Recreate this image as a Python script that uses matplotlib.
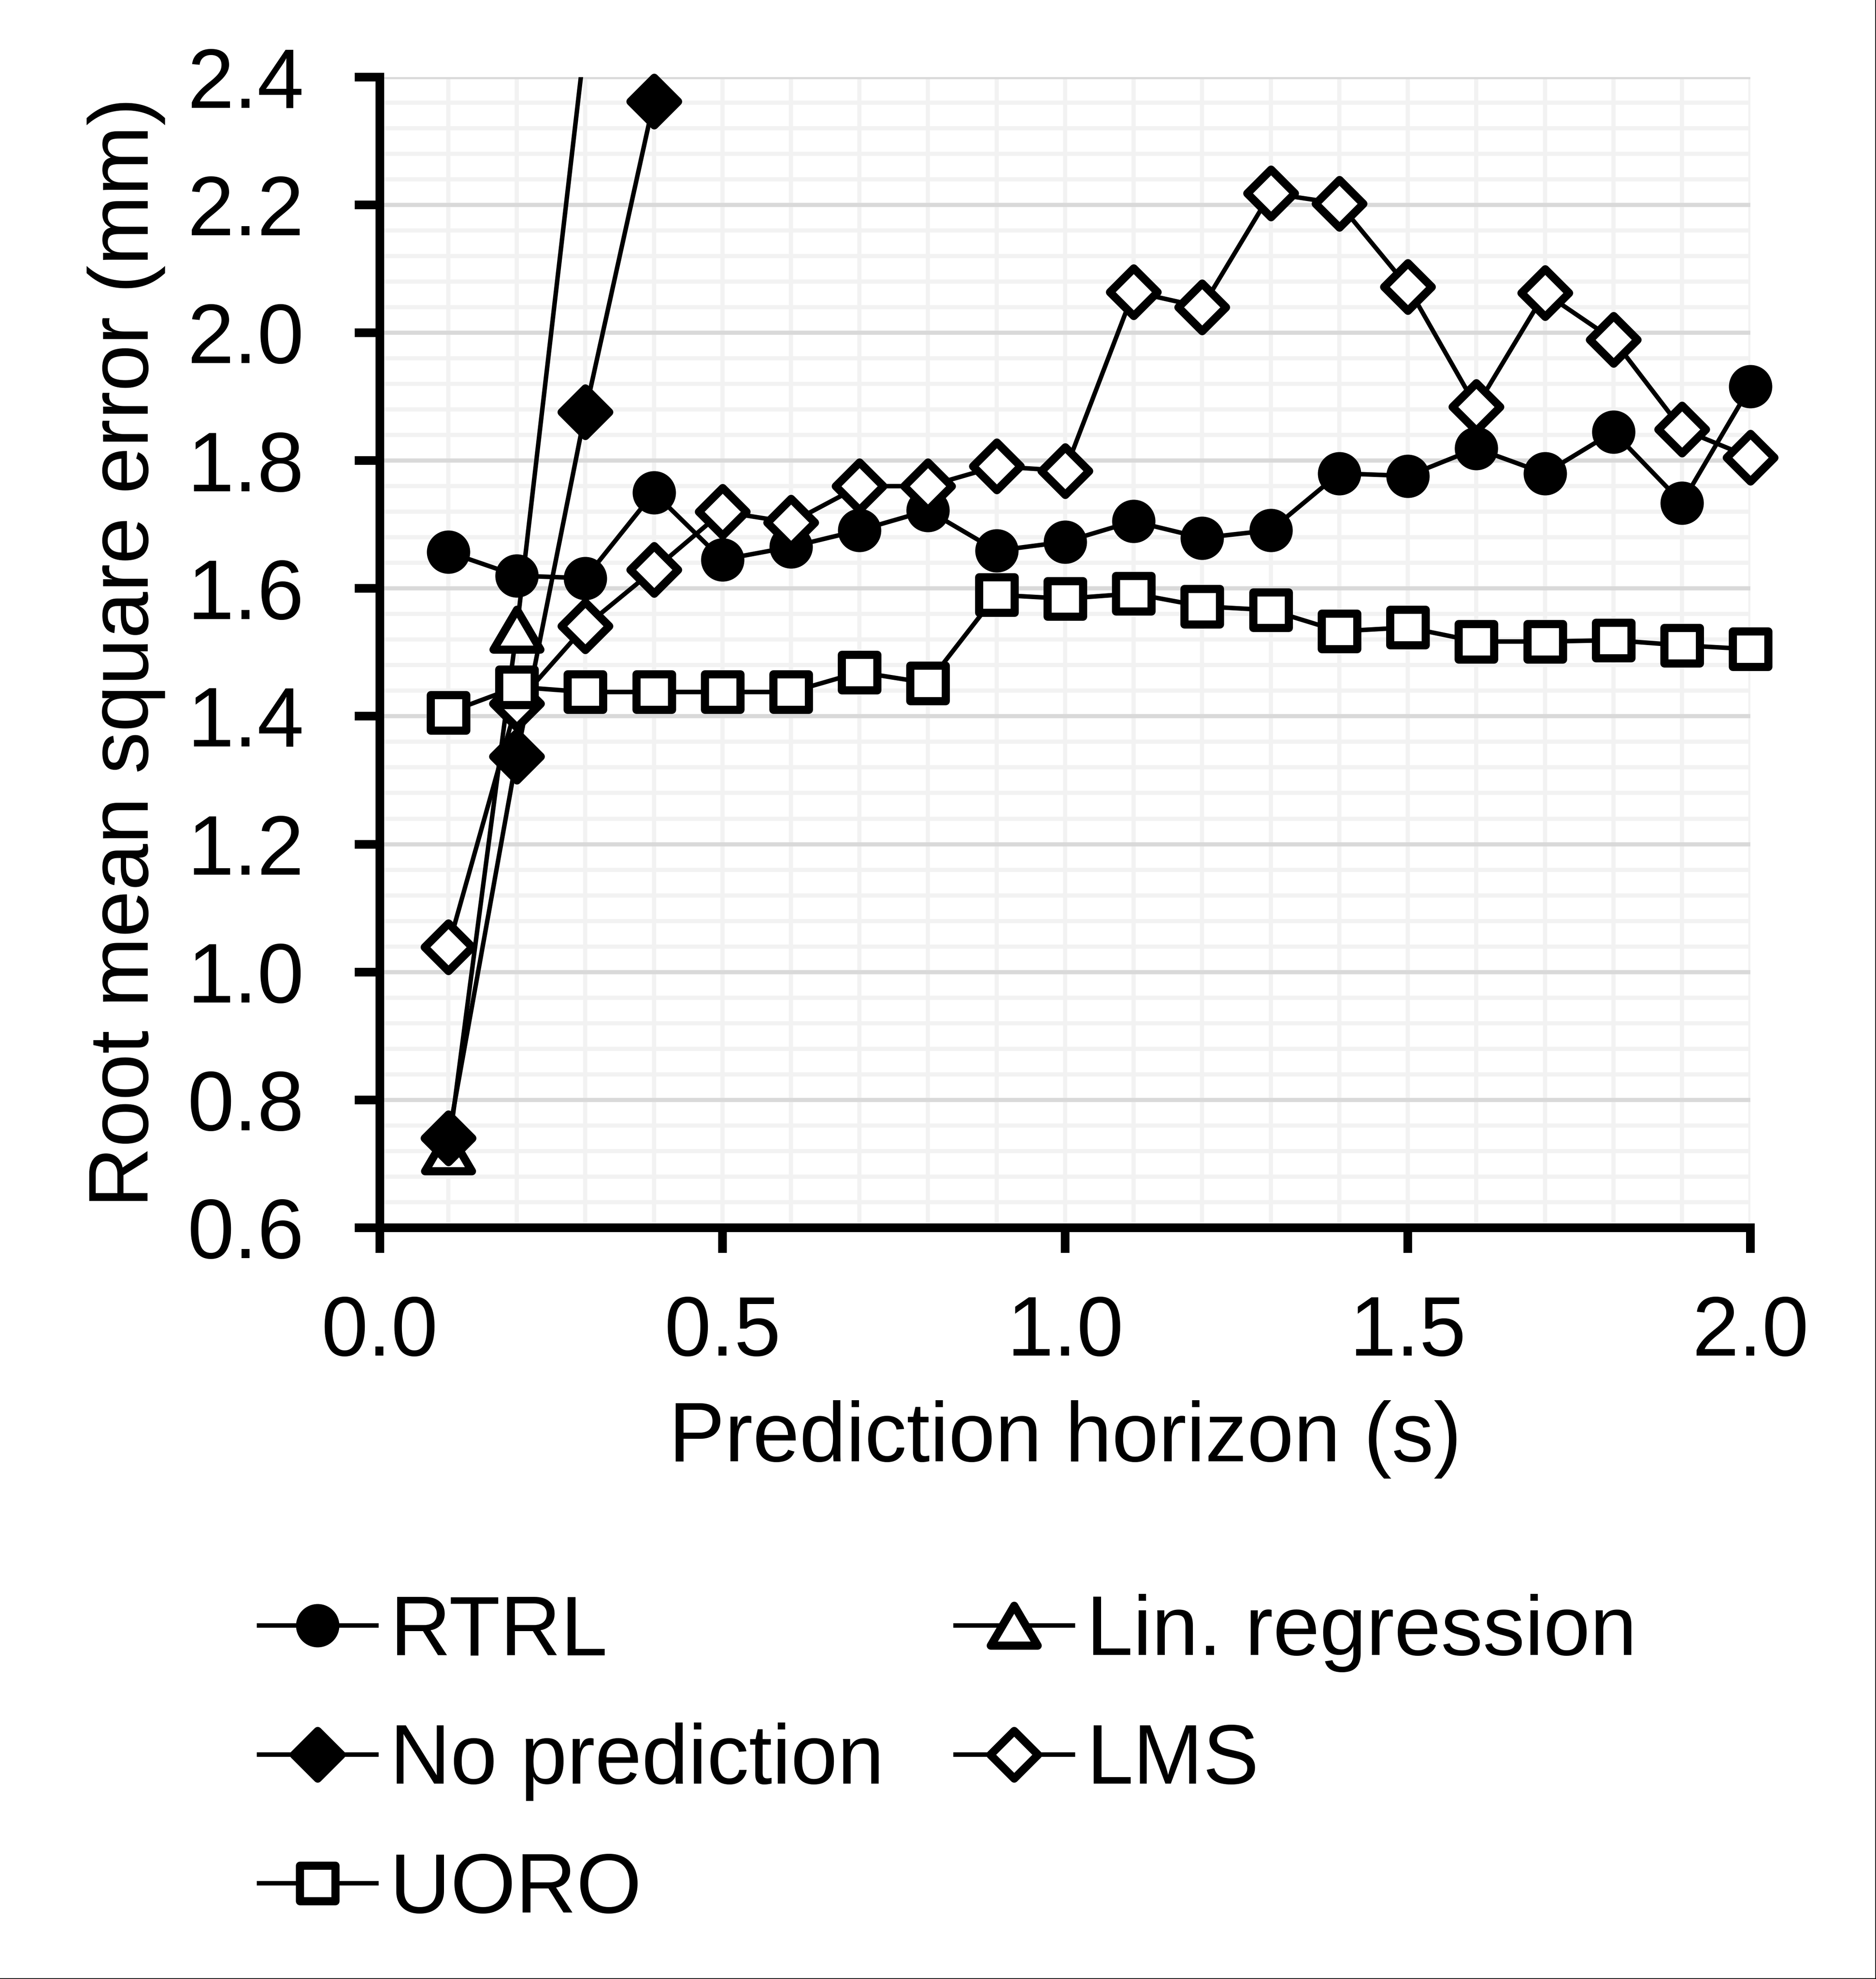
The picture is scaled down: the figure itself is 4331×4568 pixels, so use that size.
import numpy as np
import matplotlib
matplotlib.use("Agg")
import matplotlib.pyplot as plt
from matplotlib.markers import MarkerStyle
from matplotlib.lines import Line2D
from matplotlib.path import Path
from matplotlib.ticker import FormatStrFormatter, MultipleLocator

plt.rcParams['font.family'] = ['Liberation Sans', 'DejaVu Sans']

# prediction horizon (s)
horizon = [0.1, 0.2, 0.3, 0.4, 0.5, 0.6, 0.7, 0.8, 0.9, 1.0,
           1.1, 1.2, 1.3, 1.4, 1.5, 1.6, 1.7, 1.8, 1.9, 2.0]

# RMSE (mm)
rtrl = [1.657, 1.620, 1.616, 1.750, 1.645, 1.665, 1.691, 1.722, 1.659, 1.673,
        1.705, 1.679, 1.691, 1.780, 1.776, 1.819, 1.780, 1.845, 1.734, 1.916]
lin_reg_horizon = [0.1, 0.2, 0.3]
lin_reg = [0.72, 1.536, 2.46]
no_pred_horizon = [0.1, 0.2, 0.3, 0.4]
no_pred = [0.74, 1.337, 1.876, 2.362]
lms = [1.039, 1.420, 1.541, 1.629, 1.720, 1.703, 1.760, 1.760, 1.791, 1.784,
       2.064, 2.040, 2.218, 2.202, 2.072, 1.884, 2.062, 1.989, 1.849, 1.805]
uoro = [1.406, 1.446, 1.438, 1.438, 1.438, 1.438, 1.469, 1.452, 1.590, 1.584,
        1.592, 1.572, 1.566, 1.533, 1.539, 1.517, 1.517, 1.519, 1.511, 1.505]

FS = 46.5
LW = 2.5
MEW = 4.5

fig = plt.figure(figsize=(4331 / 300, 4568 / 300), dpi=300)
ax = fig.add_axes([0.2024, 0.3796, 0.7307, 0.5815])

tri_path = Path([(-1, -0.85), (1, -0.85), (0, 0.85), (-1, -0.85)],
                [Path.MOVETO, Path.LINETO, Path.LINETO, Path.CLOSEPOLY])
tri = MarkerStyle(tri_path, joinstyle='round')
dia = MarkerStyle('D', joinstyle='round')
sq = MarkerStyle('s', joinstyle='round')

common = dict(color='black', lw=LW, mew=MEW, mec='black')

l_rtrl, = ax.plot(horizon, rtrl, marker='o', ms=19.5, mfc='black',
                  label='RTRL', zorder=3, clip_on=False, **common)
l_lin, = ax.plot(lin_reg_horizon, lin_reg, marker=tri, ms=26, mfc='white',
                 label='Lin. regression', zorder=4, **common)
l_nop, = ax.plot(no_pred_horizon, no_pred, marker=dia, ms=18.7, mfc='black',
                 label='No prediction', zorder=5, clip_on=False, **common)
l_lms, = ax.plot(horizon, lms, marker=dia, ms=18.7, mfc='white',
                 label='LMS', zorder=6, clip_on=False, **common)
l_uoro, = ax.plot(horizon, uoro, marker=sq, ms=19.5, mfc='white',
                  label='UORO', zorder=7, clip_on=False, **common)

ax.set_xlim(0, 2.0)
ax.set_ylim(0.6, 2.4)
ax.xaxis.set_major_locator(MultipleLocator(0.5))
ax.xaxis.set_minor_locator(MultipleLocator(0.1))
ax.yaxis.set_major_locator(MultipleLocator(0.2))
ax.yaxis.set_minor_locator(MultipleLocator(0.04))
ax.xaxis.set_major_formatter(FormatStrFormatter('%.1f'))
ax.yaxis.set_major_formatter(FormatStrFormatter('%.1f'))

ax.set_axisbelow(True)
ax.grid(axis='x', which='both', color='#F2F2F2', lw=2.3)
ax.grid(axis='y', which='minor', color='#F2F2F2', lw=2.3)
ax.grid(axis='y', which='major', color='#D9D9D9', lw=2.3)

for side in ['top', 'right']:
    ax.spines[side].set_visible(False)
for side in ['left', 'bottom']:
    ax.spines[side].set_linewidth(4.8)
    ax.spines[side].set_zorder(8)

ax.tick_params(which='major', direction='out', length=14, width=4.8,
               labelsize=FS, color='black')
ax.tick_params(which='minor', length=0)
ax.tick_params(axis='x', pad=23)
ax.tick_params(axis='y', pad=28)

ax.set_xlabel('Prediction horizon (s)', fontsize=FS, labelpad=15)
ax.set_ylabel('Root mean square error (mm)', fontsize=FS, labelpad=12)

handles = [l_rtrl, l_nop, l_uoro, l_lin, l_lms]
fig.legend(handles, [h.get_label() for h in handles], ncol=2,
           loc='upper left', bbox_to_anchor=(0.138, 0.1946),
           bbox_transform=fig.transFigure, frameon=False, fontsize=FS,
           numpoints=1, handlelength=1.40, handletextpad=0.16,
           columnspacing=0.85, labelspacing=0.6, borderpad=0,
           borderaxespad=0)

# thin frame on the right and bottom edge of the picture
fig.add_artist(Line2D([0.9997, 0.9997], [0, 1], transform=fig.transFigure,
                      color='black', lw=0.6))
fig.add_artist(Line2D([0, 1], [0.0003, 0.0003], transform=fig.transFigure,
                      color='black', lw=0.6))

fig.savefig('out.png', dpi=300)
